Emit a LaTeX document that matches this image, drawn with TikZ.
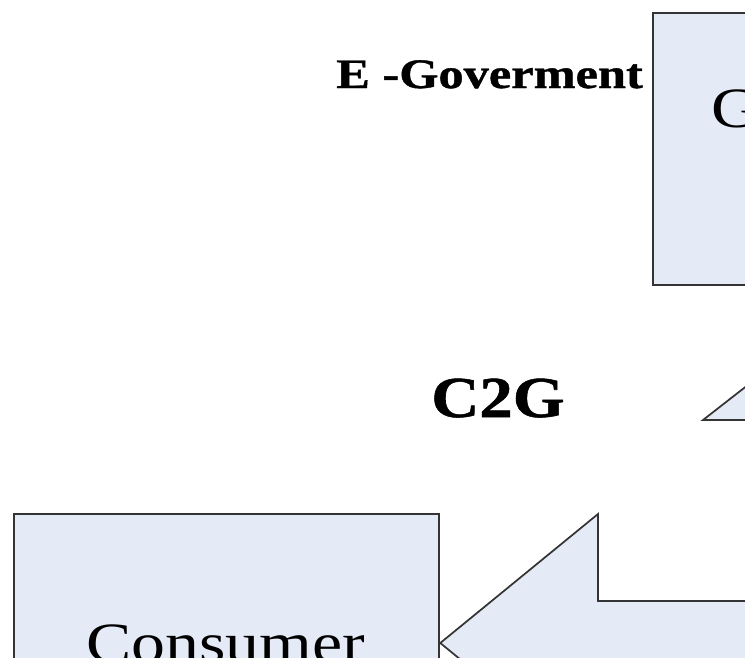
\documentclass[tikz,border=0pt]{standalone}
\usepackage{fontspec}
\setmainfont{Liberation Serif}
\newfontfamily\heavyfont[FakeBold=0.9]{Liberation Serif Bold}
\usepackage{graphicx}
\definecolor{boxfill}{RGB}{229,235,246}
\definecolor{edge}{RGB}{52,52,52}
\begin{document}
\begin{tikzpicture}[x=0.75pt,y=-0.75pt,
  panel/.style={draw=edge,fill=boxfill,line width=1.7pt,inner sep=0pt,anchor=north west},
  blockarrow/.style={draw=edge,fill=boxfill,line width=1.3pt,line join=miter},
  lbl/.style={inner sep=0pt,anchor=base west}]
\useasboundingbox (0,0) rectangle (745,657);
\clip (0,0) rectangle (745,657);

% Government box (upper right)
\node[panel,minimum width=148.5pt,minimum height=204pt] (gov) at (652,12) {};
% Consumer box (lower left)
\node[panel,minimum width=318.75pt,minimum height=177.75pt] (cons) at (13,513) {};

% block arrow pointing left to the consumer box
\coordinate (tipL) at (cons.east |- 0,643);
\draw[blockarrow] (tipL) -- (598,514) -- (598,601) -- (860,601) -- (860,685)
  -- (598,685) -- (598,772) -- cycle;

% block arrow pointing up (C2G)
\draw[blockarrow] (703,420) -- (803,342) -- (903,420) -- (846,420) -- (846,520)
  -- (760,520) -- (760,420) -- cycle;

% labels
\node[lbl] (egov) at (336,88)
  {\heavyfont\fontsize{31.5}{36}\selectfont\scalebox{1.2}[1]{E -Goverment}};
\node[lbl] (c2g) at (431,417)
  {\heavyfont\fontsize{43.5}{50}\selectfont\scalebox{1.15}[1]{C2G}};
\node[lbl] (gtxt) at (711,127)
  {\fontsize{42.75}{50}\selectfont\scalebox{1.19}[1]{G}};
\node[lbl] (ctxt) at (86,662)
  {\fontsize{42.75}{50}\selectfont\scalebox{1.19}[1]{Consumer}};
\end{tikzpicture}
\end{document}
